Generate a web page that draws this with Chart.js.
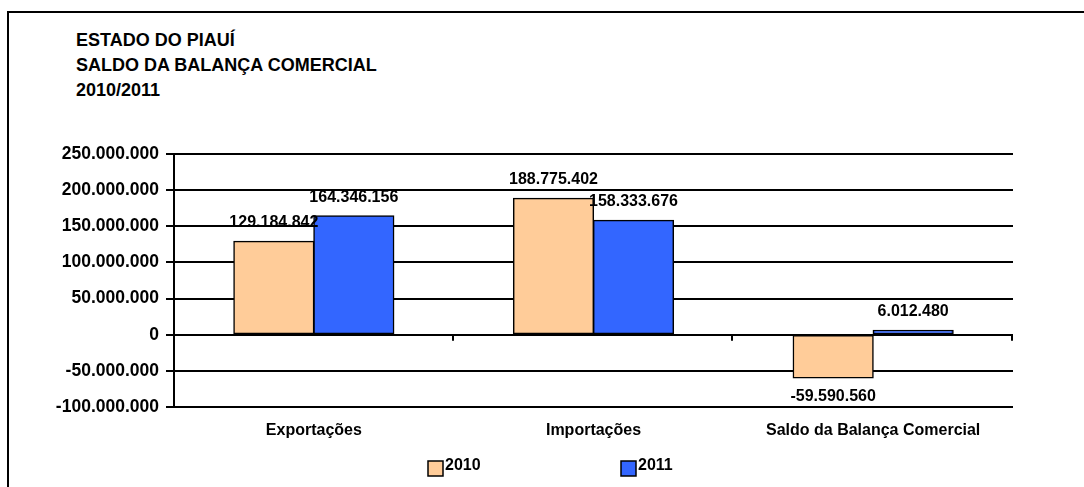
<!DOCTYPE html>
<html>
<head>
<meta charset="utf-8">
<script src="https://cdn.jsdelivr.net/npm/chart.js@4.4.1/dist/chart.umd.min.js"></script>
<style>
  body { margin: 0; background: #fff; overflow: hidden; }
  #wrap { position: relative; width: 1084px; height: 487px; }
  #moldura { position: absolute; left: 7px; top: 11px; width: 1200px; height: 600px;
             border-top: 2px solid #000; border-left: 2px solid #000; }
  #titulo { position: absolute; left: 76px; top: 28px; font: bold 18px "Liberation Sans", Arial, sans-serif;
            line-height: 25px; color: #000; }
  canvas { position: absolute; left: 0; top: 0; }
</style>
</head>
<body>
<div id="wrap">
  <div id="moldura"></div>
  <div id="titulo">ESTADO DO PIAUÍ<br>SALDO DA BALANÇA COMERCIAL<br>2010/2011</div>
  <canvas id="grafico" width="1084" height="487"></canvas>
</div>
<script>
// dados
var categorias = ["Exportações", "Importações", "Saldo da Balança Comercial"]
var anos = ["2010", "2011"]
var valores2010 = [129184842, 188775402, -59590560]
var valores2011 = [164346156, 158333676, 6012480]
var cores = ["#FFCC99", "#3366FF"]

var eixoMin = -100000000
var eixoMax = 250000000
var eixoPasso = 50000000

var fonte = '"Liberation Sans", Arial, sans-serif'

function formatar(n) {
    var s = Math.abs(Math.round(n)).toString()
    var partes = []
    while (s.length > 3) {
        partes.unshift(s.slice(-3))
        s = s.slice(0, -3)
    }
    partes.unshift(s)
    return (n < 0 ? "-" : "") + partes.join(".")
}

// rotulos de valor sobre as barras
var rotulosPlugin = {
    id: 'rotulos',
    afterDatasetsDraw(chart) {
        var ctx = chart.ctx
        ctx.save()
        ctx.font = "bold 16px " + fonte
        ctx.fillStyle = "#000"
        ctx.textAlign = "center"
        ctx.textBaseline = "alphabetic"
        chart.data.datasets.forEach(function (ds, i) {
            var meta = chart.getDatasetMeta(i)
            meta.data.forEach(function (bar, j) {
                var v = ds.data[j]
                if (v >= 0) ctx.fillText(formatar(v), bar.x, bar.y - 14)
                else ctx.fillText(formatar(v), bar.x, bar.y + 23)
            })
        })
        ctx.restore()
    }
}

// marcas no eixo zero + legenda
var extrasPlugin = {
    id: 'extras',
    afterDraw(chart) {
        var ctx = chart.ctx
        var x = chart.scales.x
        var y0 = chart.scales.y.getPixelForValue(0)
        var w = (x.right - x.left) / categorias.length
        ctx.save()
        ctx.strokeStyle = "#000"
        ctx.lineWidth = 2
        for (var i = 1; i <= categorias.length; i++) {
            var px = Math.round(x.left + i * w) - 1
            ctx.beginPath()
            ctx.moveTo(px, y0)
            ctx.lineTo(px, y0 + 6)
            ctx.stroke()
        }
        // legenda
        var posLegenda = [428, 621]
        ctx.font = "bold 16px " + fonte
        ctx.textAlign = "left"
        ctx.textBaseline = "alphabetic"
        chart.data.datasets.forEach(function (ds, i) {
            var lx = posLegenda[i]
            ctx.fillStyle = ds.backgroundColor
            ctx.fillRect(lx, 461, 15, 15)
            ctx.lineWidth = 1.5
            ctx.strokeStyle = "#000"
            ctx.strokeRect(lx, 461, 15, 15)
            ctx.fillStyle = "#000"
            ctx.fillText(ds.label, lx + 17, 470)
        })
        ctx.restore()
    }
}

new Chart(document.getElementById('grafico'), {
    type: 'bar',
    data: {
        labels: categorias,
        datasets: [
            { label: anos[0], data: valores2010, backgroundColor: cores[0] },
            { label: anos[1], data: valores2011, backgroundColor: cores[1] }
        ]
    },
    options: {
        responsive: false,
        animation: false,
        devicePixelRatio: 1,
        layout: { padding: { left: 0, right: 71, top: 154, bottom: 40 } },
        datasets: {
            bar: {
                categoryPercentage: 0.572,
                barPercentage: 1.0,
                borderColor: "#000",
                borderWidth: 1.5,
                borderSkipped: false,
                inflateAmount: 0.6
            }
        },
        plugins: {
            legend: { display: false },
            title: { display: false },
            tooltip: { enabled: false }
        },
        scales: {
            x: {
                grid: { display: false, drawTicks: false },
                border: { display: false },
                ticks: { color: "#000", padding: 14, font: { family: fonte, size: 16, weight: 'bold' } },
                afterFit: function (s) { s.height = 40 }
            },
            y: {
                min: eixoMin,
                max: eixoMax,
                ticks: {
                    stepSize: eixoPasso,
                    color: "#000",
                    padding: 7,
                    font: { family: fonte, size: 17.5, weight: 'bold' },
                    callback: function (v) { return formatar(v) }
                },
                grid: { color: "#000", lineWidth: 2, tickLength: 8 },
                border: { display: true, color: "#000", width: 2 },
                afterFit: function (s) { s.width = 174 }
            }
        }
    },
    plugins: [rotulosPlugin, extrasPlugin]
})
</script>
</body>
</html>
